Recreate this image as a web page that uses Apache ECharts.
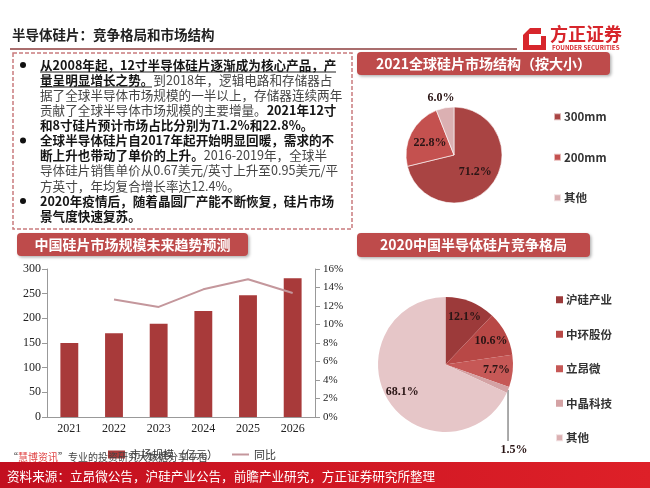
<!DOCTYPE html>
<html>
<head>
<meta charset="utf-8">
<script src="https://cdn.jsdelivr.net/npm/echarts@6/dist/echarts.min.js"></script>
<style>
html, body { margin: 0; padding: 0; background: #fff; }
#main { width: 650px; height: 488px; }
</style>
</head>
<body>
<div id="main"></div>
<script>
// bar + line: China wafer market forecast
var years = ['2021', '2022', '2023', '2024', '2025', '2026'];
var marketSize = [150, 170, 189, 215, 247, 281];
var yoyGrowth = [null, 12.7, 11.9, 13.8, 14.9, 13.4];

// pie 1: 2021 global wafer market by size
var sizeNames = ['300mm', '200mm', '其他'];
var sizeShares = [71.2, 22.8, 6.0];

// pie 2: 2020 China wafer competition
var firmNames = ['沪硅产业', '中环股份', '立昂微', '中晶科技', '其他'];
var firmShares = [12.1, 10.6, 7.7, 1.5, 68.1];

var sizeColors = ['#a94443', '#c4514f', '#dbb0b2'];
var firmColors = ['#9c3a3a', '#b84846', '#c65856', '#d4a2a4', '#e6c6c8'];

var paragraph = [
  '{b|从2008年起，12寸半导体硅片逐渐成为核心产品，产}',
  '{b|量呈明显增长之势。}{n|到2018年，逻辑电路和存储器占}',
  '{n|据了全球半导体市场规模的一半以上，存储器连续两年}',
  '{n|贡献了全球半导体市场规模的主要增量。}{b|2021年12寸}',
  '{b|和8寸硅片预计市场占比分别为71.2%和22.8%。}',
  '{b|全球半导体硅片自2017年起开始明显回暖，需求的不}',
  '{b|断上升也带动了单价的上升。}{n|2016-2019年，全球半}',
  '{n|导体硅片销售单价从0.67美元/英寸上升至0.95美元/平}',
  '{n|方英寸，年均复合增长率达12.4%。}',
  '{b|2020年疫情后，随着晶圆厂产能不断恢复，硅片市场}',
  '{b|景气度快速复苏。}'
];
var bulletLines = [0, 5, 9];

var cjk = "'Noto Sans CJK SC', 'Noto Sans', sans-serif";
var serif = "'Liberation Serif', 'DejaVu Serif', serif";

var chart = echarts.init(document.getElementById('main'));

var graphics = [];

// page title
graphics.push({
  type: 'text', x: 12, y: 35,
  style: { text: '半导体硅片：竞争格局和市场结构', fontSize: 13.5, fontWeight: 'bold', fontFamily: cjk, fill: '#222', verticalAlign: 'middle' }
});
graphics.push({
  type: 'line', shape: { x1: 10, y1: 49, x2: 517, y2: 49 },
  style: { stroke: '#8c3c3c', lineWidth: 1.5 }
});

// logo
graphics.push({ type: 'rect', shape: { x: 523, y: 28, width: 23, height: 22 }, style: { fill: '#d7262c' } });
graphics.push({ type: 'rect', shape: { x: 529, y: 34, width: 12, height: 11 }, style: { fill: '#fff' } });
graphics.push({ type: 'polygon', shape: { points: [[523, 28], [530, 28], [523, 35]] }, style: { fill: '#fff' } });
graphics.push({ type: 'rect', shape: { x: 541, y: 28, width: 5, height: 8 }, style: { fill: '#fff' } });
graphics.push({
  type: 'text', x: 550, y: 34,
  style: { text: '方正证券', fontSize: 18, fontWeight: 'bold', fontFamily: cjk, fill: '#d7262c', verticalAlign: 'middle' }
});
graphics.push({
  type: 'text', x: 552, y: 48,
  style: { text: 'FOUNDER SECURITIES', fontSize: 6.2, fontWeight: 'bold', fontFamily: cjk, fill: '#d7262c', verticalAlign: 'middle' }
});

// dashed text box
graphics.push({
  type: 'rect', shape: { x: 13, y: 53, width: 339, height: 176 },
  style: { fill: 'none', stroke: '#c97b7d', lineWidth: 1.5, lineDash: [4, 2] }
});

var richStyles = {
  b: { fontSize: 12.6, fontWeight: 'bold', fontFamily: cjk, fill: '#151515' },
  n: { fontSize: 12.6, fontWeight: 'normal', fontFamily: cjk, fill: '#444' }
};
paragraph.forEach(function (line, i) {
  var y = 65 + i * 15.1;
  graphics.push({
    type: 'text', x: 40, y: y,
    style: { text: line, rich: richStyles, verticalAlign: 'middle' }
  });
  if (bulletLines.indexOf(i) >= 0) {
    graphics.push({ type: 'circle', shape: { cx: 23, cy: y, r: 3 }, style: { fill: '#111' } });
  }
});
graphics.push({ type: 'line', shape: { x1: 40, y1: 72, x2: 336, y2: 72 }, style: { stroke: '#222', lineWidth: 1 } });
graphics.push({ type: 'line', shape: { x1: 40, y1: 87, x2: 152, y2: 87 }, style: { stroke: '#222', lineWidth: 1 } });

// section headers
function header(x, y, w, h, text) {
  graphics.push({
    type: 'rect', shape: { x: x, y: y, width: w, height: h, r: 4 },
    style: { fill: '#be4b4b', shadowBlur: 3, shadowColor: 'rgba(0,0,0,0.3)', shadowOffsetX: 1.5, shadowOffsetY: 1.5 }
  });
  graphics.push({
    type: 'text', x: x + w / 2, y: y + h / 2,
    style: { text: text, fontSize: 14, fontWeight: 'bold', fontFamily: cjk, fill: '#fff', align: 'center', verticalAlign: 'middle' }
  });
}
header(357, 52, 253, 23, '2021全球硅片市场结构（按大小）');
header(17, 233, 231, 23, '中国硅片市场规模未来趋势预测');
header(357, 233, 233, 24, '2020中国半导体硅片竞争格局');

// watermark line
graphics.push({
  type: 'text', x: 8, y: 457, z: 100,
  style: {
    text: '{q|“}{r|慧博资讯}{q|”}{g|专业的投资研究大数据分享平台}',
    verticalAlign: 'middle',
    rich: {
      q: { fontSize: 10, fontFamily: cjk, fill: '#444' },
      r: { fontSize: 10, fontFamily: cjk, fill: '#e04545' },
      g: { fontSize: 10, fontFamily: cjk, fill: '#444' }
    }
  }
});

// footer bar
graphics.push({
  type: 'rect', shape: { x: 0, y: 462, width: 650, height: 26 },
  style: {
    fill: new echarts.graphic.LinearGradient(0, 0, 1, 0, [
      { offset: 0, color: '#c20f1f' }, { offset: 1, color: '#de2028' }
    ])
  }
});
graphics.push({
  type: 'text', x: 7, y: 476,
  style: { text: '资料来源：立昂微公告，沪硅产业公告，前瞻产业研究，方正证券研究所整理', fontSize: 12.6, fontFamily: cjk, fill: '#fff', verticalAlign: 'middle' }
});

var sizeData = sizeNames.map(function (n, i) {
  var d = { name: n, value: sizeShares[i], itemStyle: { color: sizeColors[i] } };
  if (i === 2) d.label = { position: 'outside' };
  return d;
});
var firmData = firmNames.map(function (n, i) {
  var d = { name: n, value: firmShares[i], itemStyle: { color: firmColors[i] }, label: { show: false } };
  if (i === 3) d.label = { show: true, position: 'outside' };
  if (i === 3) d.labelLine = { show: true };
  return d;
});
var firmOverlay = firmNames.map(function (n, i) {
  return { name: n, value: firmShares[i], itemStyle: { color: 'rgba(0,0,0,0)' }, label: { show: i !== 3 } };
});

function pct(p) { return p.value.toFixed(1) + '%'; }
var pieLabel = { fontFamily: serif, fontWeight: 'bold', fontSize: 12, color: '#2a1515' };
var legendText = { fontSize: 11.5, fontWeight: 'bold', color: '#333', fontFamily: cjk, padding: [0, 0, 0, -2] };

var option = {
  animation: false,
  graphic: graphics,
  legend: [
    {
      data: sizeNames, orient: 'vertical', left: 548, top: 106, icon: 'rect',
      itemWidth: 7, itemHeight: 7, itemGap: 29, selectedMode: false, textStyle: legendText
    },
    {
      data: firmNames, orient: 'vertical', left: 550, top: 289, icon: 'rect',
      itemWidth: 7, itemHeight: 7, itemGap: 23, selectedMode: false, textStyle: legendText
    },
    {
      data: ['市场规模（亿元）'], icon: 'rect',
      left: 103, top: 444, itemWidth: 17, itemHeight: 8, selectedMode: false,
      textStyle: { fontSize: 11, color: '#333', fontFamily: cjk }
    },
    {
      data: ['同比'], icon: 'rect',
      left: 227, top: 444, itemWidth: 17, itemHeight: 2, selectedMode: false,
      textStyle: { fontSize: 11, color: '#333', fontFamily: cjk }
    }
  ],
  grid: { left: 47, right: 335, top: 269, bottom: 71 },
  xAxis: {
    type: 'category', data: years,
    axisLine: { lineStyle: { color: '#999' } },
    axisTick: { lineStyle: { color: '#999' } },
    axisLabel: { fontFamily: serif, fontSize: 12, color: '#222', margin: 6 }
  },
  yAxis: [
    {
      type: 'value', min: 0, max: 300, interval: 50,
      axisLine: { show: true, lineStyle: { color: '#999' } },
      axisTick: { show: true, lineStyle: { color: '#999' } },
      splitLine: { show: false },
      axisLabel: { fontFamily: serif, fontSize: 12, color: '#222', margin: 6 }
    },
    {
      type: 'value', min: 0, max: 16, interval: 2,
      axisLine: { show: true, lineStyle: { color: '#999' } },
      axisTick: { show: true, lineStyle: { color: '#999' } },
      splitLine: { show: false },
      axisLabel: { fontFamily: serif, fontSize: 11, color: '#222', margin: 8, formatter: '{value}%' }
    }
  ],
  series: [
    {
      name: '市场规模（亿元）', type: 'bar', data: marketSize, barWidth: '40%',
      itemStyle: { color: '#a83a3a' }
    },
    {
      name: '同比', type: 'line', yAxisIndex: 1, data: yoyGrowth, symbol: 'none',
      lineStyle: { color: '#c4979c', width: 2 }, itemStyle: { color: '#c4979c' }
    },
    {
      type: 'pie', center: [454, 155], radius: 48, startAngle: 90, data: sizeData,
      silent: true,
      itemStyle: { borderColor: 'rgba(255,255,255,0.6)', borderWidth: 1 },
      label: Object.assign({ show: true, position: 'inside', formatter: pct }, pieLabel),
      labelLine: { show: false },
      labelLayout: function (p) {
        if (p.dataIndex === 2) return { x: 441, y: 98, align: 'center', verticalAlign: 'middle' };
      }
    },
    {
      type: 'pie', center: [445.5, 364.5], radius: 67.5, startAngle: 90, data: firmData,
      silent: true,
      label: Object.assign({ formatter: pct }, pieLabel),
      labelLine: { lineStyle: { color: '#555', width: 1 } },
      labelLayout: function (p) {
        if (p.dataIndex === 3) {
          var a = (p.labelLinePoints && p.labelLinePoints[0]) || [508, 390];
          return {
            x: 514, y: 450, align: 'center', verticalAlign: 'middle',
            labelLinePoints: [a, [a[0], 441], [a[0], 441]]
          };
        }
      }
    },
    {
      type: 'pie', center: [445.5, 364.5], radius: [29, 67.5], startAngle: 90, data: firmOverlay,
      silent: true, legendHoverLink: false,
      label: Object.assign({ position: 'inside', formatter: pct }, pieLabel),
      labelLine: { show: false }
    }
  ]
};

chart.setOption(option);
</script>
</body>
</html>
